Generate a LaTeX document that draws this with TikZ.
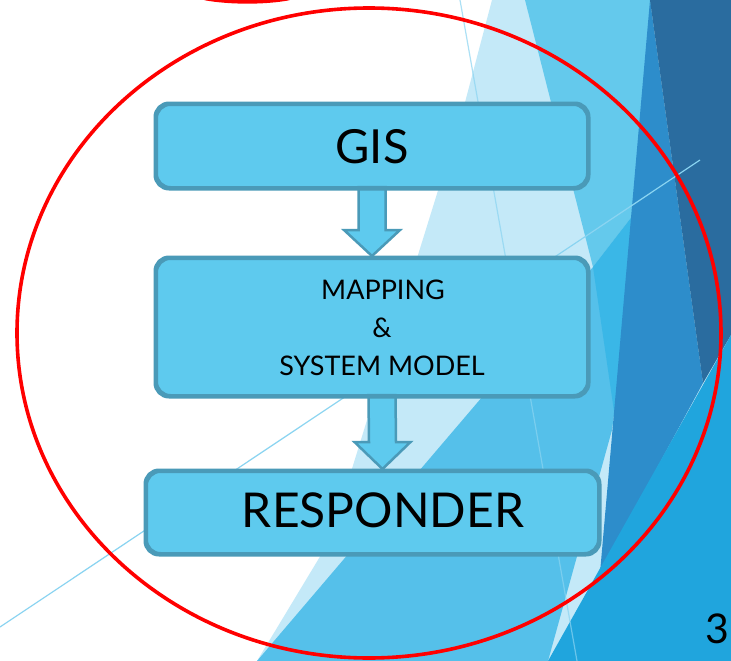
\documentclass[tikz,border=0pt]{standalone}
\usepackage{fontspec}
\setmainfont{Lato}
\usetikzlibrary{calc}
\definecolor{boxfill}{HTML}{5ECAEE}
\definecolor{boxline}{HTML}{4A9AB8}
\definecolor{bglight}{HTML}{C4E9F8}
\definecolor{bgmedlight}{HTML}{64C9EC}
\definecolor{bgmed}{HTML}{55C0EA}
\definecolor{bgcyan}{HTML}{3AB7E7}
\definecolor{bgmeddark}{HTML}{2D8DCB}
\definecolor{bgdark}{HTML}{2A6C9F}
\definecolor{bgbright}{HTML}{20A5DD}
\definecolor{bgline}{HTML}{8AD4F1}
\definecolor{ringred}{HTML}{FF0000}
\begin{document}
\begin{tikzpicture}[x=1pt,y=-1pt,
  box/.style={draw=boxline, fill=boxfill, line width=3pt, rounded corners=14pt, inner sep=0pt},
  blockarrow/.style={draw=boxline, fill=boxfill, line width=2.5pt, line join=miter},
  bigtext/.style={anchor=base, font=\fontsize{47}{52}\selectfont},
  midtext/.style={anchor=base, font=\fontsize{27}{30}\selectfont},
  ring/.style={draw=ringred, line width=3.6pt}]
\useasboundingbox (0,0) rectangle (731,661);
\clip (0,0) rectangle (731,661);
\fill[white] (0,0) rectangle (731,661);
% background facets
\fill[bglight] (492,0) -- (731,0) -- (731,661) -- (257,661) -- (330,540) -- (418,255) -- (463,110) -- cycle;
\fill[bgmedlight] (525,0) -- (652,0) -- (641,205) -- (593,267) -- cycle;
\fill[bgmed] (257,661) -- (593,267) -- (641,205) -- (612,430) -- (548,661) -- cycle;
\fill[bgcyan] (593,267) -- (641,205) -- (616,425) -- cycle;
\fill[bgmeddark] (650,0) -- (703,383) -- (600,573) -- cycle;
\fill[bgdark] (650,0) -- (731,0) -- (731,335) -- (703,383) -- cycle;
\fill[bgbright] (731,335) -- (731,661) -- (548,661) -- cycle;
\draw[bgline, line width=1.2pt] (0,627) -- (700,160);
\draw[bgline, line width=1.2pt, opacity=0.7] (460,0) -- (577,661);
% red rings
\draw[ring] (369,333) ellipse [x radius=352, y radius=325];
\draw[ring] (205,-1.5) .. controls (230,3) and (265,3) .. (289,-1.5);
% boxes
\node[box, minimum width=431pt, minimum height=83pt] (gis) at (372,146) {};
\node[box, minimum width=431pt, minimum height=137pt] (map) at (372,327) {};
\node[box, minimum width=452pt, minimum height=82pt] (resp) at (372.5,512.5) {};
% block arrows
\fill[blockarrow]
  ($(gis.south)+(-13.5,-2)$) -- ($(map.north)+(-13.5,-27)$) -- ($(map.north)+(-28,-27)$)
  -- ($(map.north)+(0,-1)$) -- ($(map.north)+(28,-27)$) -- ($(map.north)+(13.5,-27)$)
  -- ($(gis.south)+(13.5,-2)$) -- cycle;
\fill[blockarrow]
  ($(map.south)+(10-13.5,-2)$) -- ($(resp.north)+(10-13.5,-28)$) -- ($(resp.north)+(10-28,-28)$)
  -- ($(resp.north)+(10,-1)$) -- ($(resp.north)+(10+28,-28)$) -- ($(resp.north)+(10+13.5,-28)$)
  -- ($(map.south)+(10+13.5,-2)$) -- cycle;
% redraw box borders over arrow ends
\draw[draw=boxline, line width=3pt, rounded corners=14pt] (gis.south west) rectangle (gis.north east);
\draw[draw=boxline, line width=3pt, rounded corners=14pt] (map.south west) rectangle (map.north east);
\draw[draw=boxline, line width=3pt, rounded corners=14pt] (resp.south west) rectangle (resp.north east);
% texts
\node[bigtext] (tgis) at (372,163) {GIS};
\node[midtext] (tmap) at (383,299) {MAPPING};
\node[midtext] (tamp) at (382,337) {\&};
\node[midtext] (tsys) at (382,375) {SYSTEM MODEL};
\node[bigtext, font=\fontsize{48}{52}\selectfont] (tresp) at (383,527) {RESPONDER};
\node[anchor=base, font=\fontsize{41}{44}\selectfont] (pagenum) at (717,643) {3};
\end{tikzpicture}
\end{document}
